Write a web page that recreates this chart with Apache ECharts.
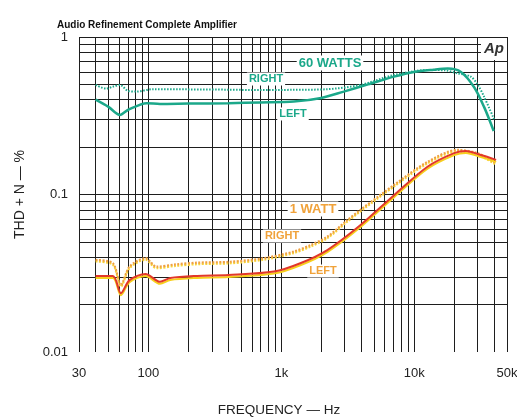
<!DOCTYPE html>
<html>
<head>
<meta charset="utf-8">
<script src="https://cdn.jsdelivr.net/npm/echarts@6/dist/echarts.min.js"></script>
<style>html,body{margin:0;padding:0;background:#fff}#c{width:517px;height:417px}</style>
</head>
<body>
<div id="c"></div>
<script>
// Frequency tick labels and grid values
var xLabelValues = [30, 100, 1000, 10000, 50000];
var yLabelValues = [0.01, 0.1, 1];
var xGridValues = [30,40,50,60,70,80,90,100,200,300,400,500,600,700,800,900,1000,2000,3000,4000,5000,6000,7000,8000,9000,10000,20000,30000,40000,50000];
var yGridValues = [0.02,0.03,0.04,0.05,0.06,0.07,0.08,0.09,0.1,0.2,0.3,0.4,0.5,0.6,0.7,0.8,0.9,1];

// 60 W, left channel (solid)
var freq60L = [40, 50, 61, 70, 97, 122, 200, 400, 700, 1240, 2000, 2950, 4500, 7050, 10000, 14000, 17900, 22500, 28300, 33600, 39700];
var thd60L  = [0.40, 0.36, 0.32, 0.344, 0.38, 0.376, 0.378, 0.38, 0.384, 0.389, 0.41, 0.45, 0.50, 0.56, 0.60, 0.62, 0.63, 0.60, 0.48, 0.36, 0.253];
// 60 W, right channel (dotted)
var freq60R = [40, 48, 54, 61, 70, 80, 108, 200, 400, 700, 1200, 2200, 3950, 7050, 12600, 17000, 21200, 26700, 30000, 33600, 40200];
var thd60R  = [0.496, 0.47, 0.484, 0.496, 0.455, 0.45, 0.466, 0.465, 0.463, 0.46, 0.462, 0.466, 0.496, 0.574, 0.617, 0.615, 0.588, 0.56, 0.50, 0.418, 0.297];
// 1 W, left channel (solid)
var freq1L = [40, 54, 62, 72, 95, 122, 146, 232, 400, 880, 1390, 2220, 3950, 7060, 12600, 20000, 24500, 31800, 41400];
var thd1L  = [0.0304, 0.0304, 0.0236, 0.0286, 0.0313, 0.0279, 0.0295, 0.0304, 0.0308, 0.0324, 0.0366, 0.0444, 0.064, 0.099, 0.150, 0.183, 0.189, 0.178, 0.166];
// 1 W, right channel (dotted)
var freq1R = [40, 54, 62, 72, 95, 115, 160, 232, 414, 735, 1240, 1665, 2220, 3150, 3950, 7060, 12600, 21200, 30000, 41400];
var thd1R  = [0.0384, 0.0366, 0.0266, 0.0348, 0.0394, 0.0348, 0.036, 0.0369, 0.0374, 0.0394, 0.0434, 0.0478, 0.054, 0.0689, 0.080, 0.115, 0.161, 0.192, 0.183, 0.158];

function pairs(xs, ys){ return xs.map(function(x,i){ return [x, ys[i]]; }); }

var TEAL = '#1ba88a';
var ORANGE = '#f0a23a';
var FONT = 'Liberation Sans';

var chart = echarts.init(document.getElementById('c'));

var gridLines = [];
xGridValues.forEach(function(v){ gridLines.push({xAxis: v}); });
yGridValues.forEach(function(v){ gridLines.push({yAxis: v}); });

function fmtX(v){
  if (v >= 1000) return (v/1000) + 'k';
  return String(v);
}

chart.setOption({
  animation: false,
  backgroundColor: '#ffffff',
  title: {
    text: 'Audio Refinement Complete Amplifier',
    left: 52, top: 15,
    textStyle: {fontFamily: FONT, fontSize: 10, fontWeight: 'bold', color: '#111'}
  },
  grid: {left: 79, right: 10, top: 37, bottom: 65, outerBoundsMode: 'none', containLabel: false},
  xAxis: {
    type: 'log', logBase: 10, min: 30, max: 50000,
    name: 'FREQUENCY — Hz', nameLocation: 'middle', nameGap: 51,
    nameTextStyle: {fontFamily: FONT, fontSize: 13.5, color: '#222', padding: [0, 28, 0, 0]},
    axisLine: {show: false},
    axisTick: {show: false},
    splitLine: {show: false},
    axisLabel: {
      customValues: xLabelValues,
      formatter: fmtX,
      fontFamily: FONT, fontSize: 13, color: '#222', margin: 15
    }
  },
  yAxis: {
    type: 'log', logBase: 10, min: 0.01, max: 1,
    name: 'THD + N — %', nameLocation: 'middle', nameRotate: 90, nameGap: 52,
    nameTextStyle: {fontFamily: FONT, fontSize: 14, color: '#222'},
    axisLine: {show: false},
    axisTick: {show: false},
    splitLine: {show: false},
    axisLabel: {
      customValues: yLabelValues,
      formatter: function(v){ return String(+v.toPrecision(3)); },
      fontFamily: FONT, fontSize: 13, color: '#222', margin: 11
    }
  },
  series: [
    {
      name: 'grid', type: 'line', data: [], silent: true,
      markLine: {
        silent: true, symbol: 'none', label: {show: false},
        lineStyle: {color: '#1e1e1e', width: 1, type: 'solid'},
        data: gridLines, animation: false
      }
    },
    {
      name: '60 W Left', type: 'line', data: pairs(freq60L, thd60L), smooth: 0.3,
      showSymbol: false, z: 5,
      lineStyle: {color: TEAL, width: 2.5}
    },
    {
      name: '60 W Right', type: 'line', data: pairs(freq60R, thd60R), smooth: 0.3,
      showSymbol: false, z: 5,
      lineStyle: {color: TEAL, width: 2, type: [1.5, 1.5]}
    },
    {
      name: '1 W Right', type: 'line', data: pairs(freq1R, thd1R), smooth: 0.3,
      showSymbol: false, z: 5,
      lineStyle: {color: '#f0a040', width: 2.2, type: [2, 1.5], shadowColor: '#f7d43a', shadowOffsetY: 1.5, shadowBlur: 0}
    },
    {
      name: '1 W Left', type: 'line', data: pairs(freq1L, thd1L), smooth: 0.3,
      showSymbol: false, z: 6,
      lineStyle: {color: '#e2382a', width: 2, shadowColor: '#f7cf1c', shadowOffsetY: 2, shadowBlur: 0}
    }
  ],
  graphic: [
    {type: 'rect', z: 100, shape: {x: 481, y: 38, width: 26, height: 22}, style: {fill: '#fff'}},
    {type: 'text', z: 101, x: 494, y: 49, style: {text: 'Ap', font: 'italic bold 15px ' + FONT, fill: '#333', align: 'center', verticalAlign: 'middle'}},
    {type: 'text', z: 101, x: 330, y: 63, style: {text: '60 WATTS', font: 'bold 13px ' + FONT, fill: TEAL, align: 'center', verticalAlign: 'middle', backgroundColor: '#fff', padding: [1, 2]}},
    {type: 'text', z: 101, x: 266, y: 79, style: {text: 'RIGHT', font: 'bold 11px ' + FONT, fill: TEAL, align: 'center', verticalAlign: 'middle', backgroundColor: '#fff', padding: [1, 2]}},
    {type: 'text', z: 101, x: 293, y: 114, style: {text: 'LEFT', font: 'bold 11px ' + FONT, fill: TEAL, align: 'center', verticalAlign: 'middle', backgroundColor: '#fff', padding: [1, 2]}},
    {type: 'text', z: 101, x: 313, y: 209, style: {text: '1 WATT', font: 'bold 13px ' + FONT, fill: ORANGE, align: 'center', verticalAlign: 'middle', backgroundColor: '#fff', padding: [1, 2]}},
    {type: 'text', z: 101, x: 282, y: 236, style: {text: 'RIGHT', font: 'bold 11px ' + FONT, fill: ORANGE, align: 'center', verticalAlign: 'middle', backgroundColor: '#fff', padding: [1, 2]}},
    {type: 'text', z: 101, x: 323, y: 271, style: {text: 'LEFT', font: 'bold 11px ' + FONT, fill: ORANGE, align: 'center', verticalAlign: 'middle', backgroundColor: '#fff', padding: [1, 2]}}
  ]
});
</script>
</body>
</html>
